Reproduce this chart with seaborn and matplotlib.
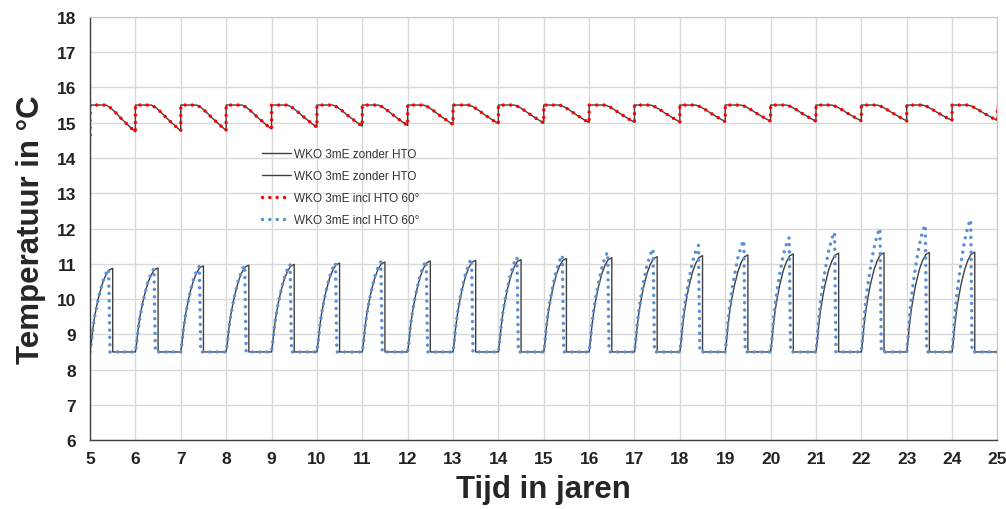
import numpy as np
import pandas as pd
import matplotlib.pyplot as plt
from matplotlib.lines import Line2D
import seaborn as sns

# years where a cycle starts
years = list(range(5, 25))

# upper curve (red / black): minimum reached at the end of each year, top is 15.5
red_top = 15.5
red_start = 14.65
red_min = [14.74, 14.77, 14.78, 14.82, 14.87, 14.90, 14.92, 14.95, 14.97, 14.99,
           15.00, 15.01, 15.02, 15.03, 15.04, 15.04, 15.05, 15.05, 15.06, 15.06]
# shape of one red cycle (time in year, fraction of the drop)
red_cycle_t = [0, 0.35, 0.45, 0.57, 0.68, 0.79, 0.90, 1.0]
red_cycle_f = [0, 0, 0.10, 0.29, 0.49, 0.67, 0.85, 1.0]

# lower curves: base level and peak per year
low_base = 8.5
black_peak = [10.87, 10.88, 10.94, 10.96, 10.98, 11.02, 11.05, 11.08, 11.10, 11.12,
              11.15, 11.17, 11.20, 11.23, 11.25, 11.28, 11.30, 11.31, 11.32, 11.33]
blue_peak = [10.85, 10.86, 10.93, 10.95, 10.98, 11.02, 11.05, 11.08, 11.14, 11.18,
             11.24, 11.32, 11.42, 11.52, 11.66, 11.74, 11.89, 12.00, 12.10, 12.25]
# rising part of one cycle (fraction of the rise)
rise_f = [0, 0.12, 0.27, 0.42, 0.56, 0.68, 0.83, 0.92, 0.98, 1.0]
black_rise_t = [0, 0.03, 0.06, 0.10, 0.15, 0.20, 0.28, 0.35, 0.42, 0.50]
blue_rise_t = [0, 0.03, 0.06, 0.10, 0.15, 0.20, 0.27, 0.33, 0.38, 0.41]
black_drop_t = 0.50
blue_drop_t = 0.44

labels = ['WKO 3mE zonder HTO', 'WKO 3mE zonder HTO',
          'WKO 3mE incl HTO 60°', 'WKO 3mE incl HTO 60°']


def upper_series():
    t, v = [years[0]], [red_start]
    for y, m in zip(years, red_min):
        for ct, cf in zip(red_cycle_t, red_cycle_f):
            t.append(y + ct)
            v.append(red_top - cf * (red_top - m))
    t.append(years[-1] + 1)
    v.append(red_top)
    return pd.DataFrame({'t': t, 'v': v})


def lower_series(peaks, rise_t, drop_t):
    t, v = [], []
    for y, p in zip(years, peaks):
        for ct, cf in zip(rise_t, rise_f):
            t.append(y + ct)
            v.append(low_base + cf * (p - low_base))
        t.append(y + drop_t)
        v.append(low_base)
    t.append(years[-1] + 1)
    v.append(low_base)
    return pd.DataFrame({'t': t, 'v': v})


up = upper_series()
black_low = lower_series(black_peak, black_rise_t, black_drop_t)
blue_low = lower_series(blue_peak, blue_rise_t, blue_drop_t)

sns.set_style('white')
plt.rcParams['font.family'] = ['Liberation Sans', 'DejaVu Sans']

fig = plt.figure(figsize=(10.06, 5.10), dpi=100)
ax = fig.add_axes([0.0895, 0.135, 0.902, 0.83])

black = '#404040'
red = '#ff0000'
blue = '#5b8fd6'
dots = (0, (0.01, 2.1))

sns.lineplot(data=up, x='t', y='v', ax=ax, sort=False, estimator=None,
             color=black, linewidth=1.0)
sns.lineplot(data=black_low, x='t', y='v', ax=ax, sort=False, estimator=None,
             color=black, linewidth=1.0)
sns.lineplot(data=up, x='t', y='v', ax=ax, sort=False, estimator=None,
             color=red, linewidth=2.5, linestyle=dots, dash_capstyle='round')
sns.lineplot(data=blue_low, x='t', y='v', ax=ax, sort=False, estimator=None,
             color=blue, linewidth=2.5, linestyle=dots, dash_capstyle='round')

ax.set_xlim(5, 25)
ax.set_ylim(6, 18)
ax.set_xticks(range(5, 26))
ax.set_yticks(range(6, 19))
ax.grid(True, color='#d9d9d9', linewidth=1)
ax.set_axisbelow(True)
for s in ['left', 'bottom']:
    ax.spines[s].set_color(black)
    ax.spines[s].set_linewidth(1)
for s in ['top', 'right']:
    ax.spines[s].set_color('#c8c8c8')
ax.tick_params(direction='out', length=4, width=1, color=black,
               labelsize=12.5, labelcolor='#222222')
for lab in ax.get_xticklabels() + ax.get_yticklabels():
    lab.set_fontweight('bold')
ax.tick_params(axis='y', pad=6)

ax.set_xlabel('Tijd in jaren', fontsize=22.5, fontweight='bold', labelpad=6)
ax.set_ylabel('Temperatuur in °C', fontsize=22.5, fontweight='bold', labelpad=8)

handles = [
    Line2D([], [], color=black, linewidth=1.0),
    Line2D([], [], color=black, linewidth=1.0),
    Line2D([], [], color=red, linewidth=2.5, linestyle=dots, dash_capstyle='round'),
    Line2D([], [], color=blue, linewidth=2.5, linestyle=dots, dash_capstyle='round'),
]
leg = ax.legend(handles, labels, loc='upper left', bbox_to_anchor=(0.19, 0.69),
                frameon=False, fontsize=8.5, handlelength=2.4, handletextpad=0.3,
                labelspacing=0.85, borderpad=0, borderaxespad=0)
for txt in leg.get_texts():
    txt.set_color('#333333')

fig.savefig('out.png', dpi=100)
